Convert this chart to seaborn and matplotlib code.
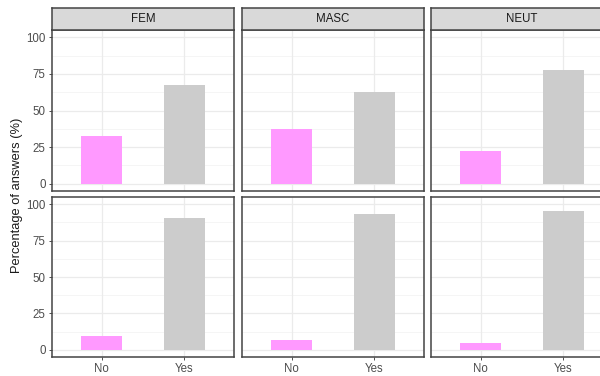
import matplotlib
matplotlib.use("Agg")
import matplotlib.pyplot as plt
import seaborn as sns
import pandas as pd

sns.set_theme(style="white")
plt.rcParams['font.family'] = ['Liberation Sans', 'DejaVu Sans']

genders = ["FEM", "MASC", "NEUT"]
answers = ["No", "Yes"]
rows = ["top", "bottom"]
values_top = {"FEM": [32.4, 67.6], "MASC": [37.2, 62.8], "NEUT": [22.0, 78.0]}
values_bottom = {"FEM": [9.5, 90.5], "MASC": [6.8, 93.2], "NEUT": [4.8, 95.2]}
yticks = [0, 25, 50, 75, 100]
colors = {"No": "#FF99FF", "Yes": "#CCCCCC"}

records = []
for r, vals in zip(rows, [values_top, values_bottom]):
    for g in genders:
        for a, v in zip(answers, vals[g]):
            records.append({"row": r, "gender": g, "answer": a, "pct": v})
df = pd.DataFrame(records)

W, H = 600, 376
fig = plt.figure(figsize=(6, 3.76), dpi=100)

lefts = [52, 242, 431]
pw = 182
row_y = {"top": (30, 191), "bottom": (197, 357)}

for ri, r in enumerate(rows):
    y0, y1 = row_y[r]
    for ci, g in enumerate(genders):
        x0 = lefts[ci]
        ax = fig.add_axes([x0 / W, (H - y1) / H, pw / W, (y1 - y0) / H])
        sub = df[(df.row == r) & (df.gender == g)]
        for yv in [12.5, 37.5, 62.5, 87.5]:
            ax.axhline(yv, color="#F2F2F2", lw=0.5, zorder=0)
        for yv in yticks:
            ax.axhline(yv, color="#EBEBEB", lw=0.9, zorder=0)
        for xv in [0, 1]:
            ax.axvline(xv, color="#EBEBEB", lw=0.9, zorder=0)
        sns.barplot(data=sub, x="answer", y="pct", hue="answer", order=answers,
                    hue_order=answers, palette=colors, width=0.5, dodge=False,
                    legend=False, ax=ax, linewidth=0, saturation=1, errorbar=None,
                    zorder=2)
        ax.set_xlim(-0.6, 1.6)
        ax.set_ylim(-5, 105)
        ax.set_yticks(yticks)
        ax.set_xlabel("")
        ax.set_ylabel("")
        for s in ax.spines.values():
            s.set_color("#444444")
            s.set_linewidth(1.1)
        ax.tick_params(axis="both", length=2.5, width=0.6, color="#333333",
                       labelsize=8.3, labelcolor="#4D4D4D", pad=2,
                       bottom=True, left=True)
        if ci != 0:
            ax.tick_params(axis="y", left=False, labelleft=False)
        if r == "top":
            ax.tick_params(axis="x", bottom=False, labelbottom=False)
            sax = fig.add_axes([x0 / W, (H - y0) / H, pw / W, 22 / H])
            sax.set_xticks([]); sax.set_yticks([])
            sax.set_facecolor("#D9D9D9")
            for s in sax.spines.values():
                s.set_color("#444444")
                s.set_linewidth(1.1)
            sax.text(0.5, 0.5, g, ha="center", va="center", fontsize=8.3,
                     color="#1A1A1A", transform=sax.transAxes)

fig.text(17 / W, 1 - 195 / H, "Percentage of answers (%)", rotation=90,
         ha="center", va="center", fontsize=9.3, color="#1A1A1A")

fig.savefig("out.png", dpi=100)
